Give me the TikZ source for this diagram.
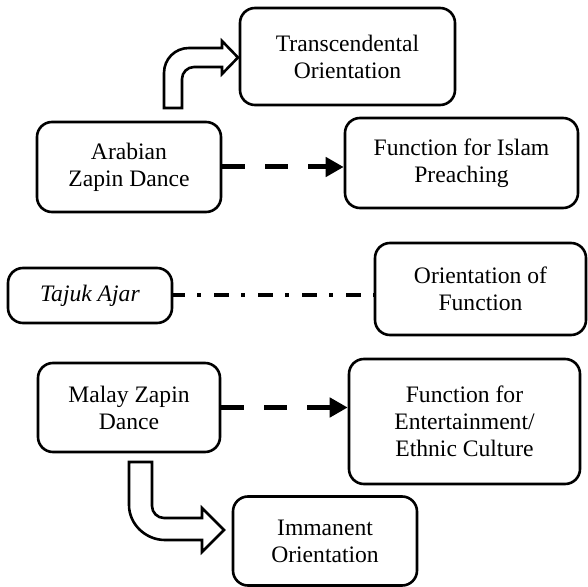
\documentclass[tikz,border=0pt]{standalone}
\usepackage{fontspec}
\setmainfont{Liberation Serif}
\usetikzlibrary{arrows.meta, calc}
\definecolor{mydark}{RGB}{0, 0, 0}

\begin{document}
\begin{tikzpicture}[x=0.5pt, y=-0.5pt,
    box/.style={draw=mydark, line width=1.3pt, rounded corners=7.5pt, align=center, inner sep=0pt,
        font=\fontsize{11.8}{13.5}\selectfont},
    dasharrow/.style={-{Triangle[length=9pt, width=9.5pt]}, line width=2.5pt, mydark, dash pattern=on 11.5pt off 10pt},
    dashdot/.style={line width=2pt, mydark, dash pattern=on 7.5pt off 6pt on 2pt off 6.5pt, dash phase=1.5pt},
    blockarrow/.style={draw=mydark, fill=white, line width=1.3pt, line join=miter}]
    % Bounding box in pixel units of the reference
    \useasboundingbox (0, 0) rectangle (588, 587);

    % ----------------------------------------------------
    % Boxes
    % ----------------------------------------------------
    \node[box, minimum width=107.5pt, minimum height=48.5pt] (trans) at (347.5, 56.5) {Transcendental\\Orientation};
    \node[box, minimum width=92pt, minimum height=45pt] (arab) at (129, 167) {Arabian\\Zapin Dance};
    \node[box, minimum width=116.5pt, minimum height=45pt] (islam) at (461.5, 163) {Function for Islam\\Preaching};
    \node[box, minimum width=82pt, minimum height=27.5pt] (tajuk) at (90, 295.5) {\textit{Tajuk Ajar}};
    \node[box, minimum width=105.5pt, minimum height=46pt] (orient) at (480.5, 289) {Orientation of\\Function};
    \node[box, minimum width=91pt, minimum height=44.5pt] (malay) at (129, 407.5) {Malay Zapin\\Dance};
    \node[box, minimum width=115.5pt, minimum height=62.5pt] (enter) at (464.5, 421.5) {Function for\\Entertainment/\\Ethnic Culture};
    \node[box, minimum width=92pt, minimum height=44.5pt] (imman) at (325, 541) {Immanent\\Orientation};

    % ----------------------------------------------------
    % Connectors
    % ----------------------------------------------------
    \draw[dasharrow] (arab.east) -- (arab.east -| islam.west);
    \draw[dasharrow] (malay.east) -- (malay.east -| enter.west);
    \draw[dashdot] (tajuk.east) -- (tajuk.east -| orient.west);

    % Bent block arrow up to the transcendental box
    \draw[blockarrow] (164, 108) -- (164, 73) .. controls (164, 59) and (175, 48) .. (189, 48)
        -- (222, 48) -- (222, 41) -- (238, 57.5) -- (222, 74) -- (222, 67) -- (194, 67)
        .. controls (187.4, 67) and (182, 72.4) .. (182, 79) -- (182, 108) -- cycle;

    % Bent block arrow down to the immanent box
    \draw[blockarrow] (129, 462) -- (129, 505) .. controls (129, 524.3) and (145.7, 540) .. (165, 540)
        -- (202, 540) -- (202, 552) -- (224, 530) -- (202, 508) -- (202, 518) -- (164, 518)
        .. controls (157.4, 518) and (152, 512.6) .. (152, 506) -- (152, 462) -- cycle;

\end{tikzpicture}
\end{document}
